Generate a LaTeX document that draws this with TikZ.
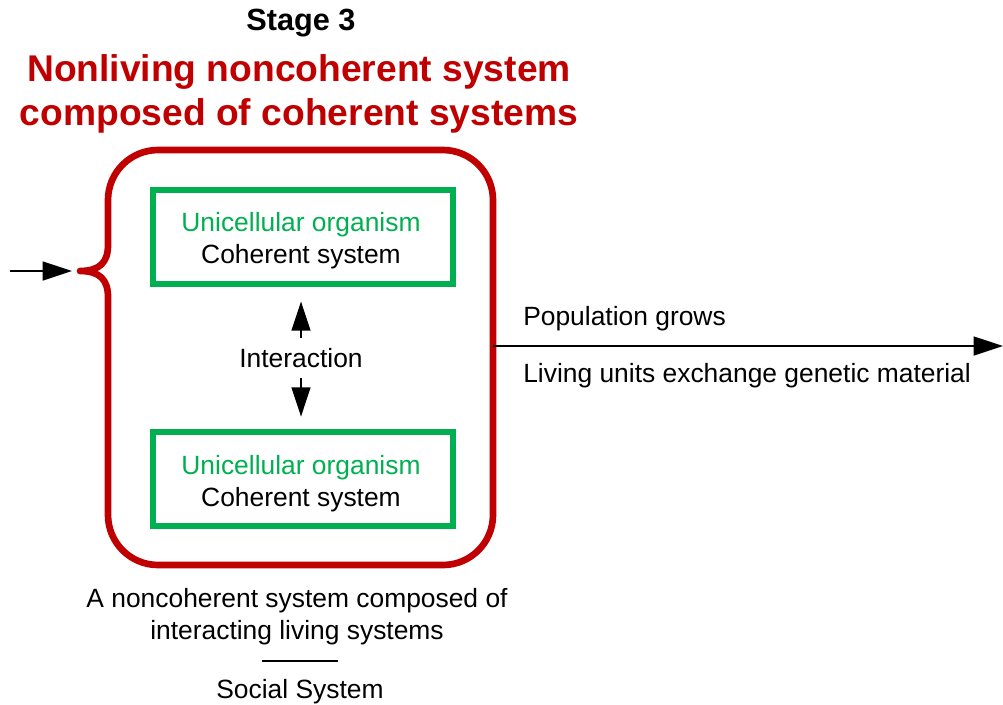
\documentclass[tikz,border=0pt]{standalone}
\usepackage{fontspec}
\setmainfont{Liberation Sans}
\usetikzlibrary{arrows.meta}
\definecolor{myred}{HTML}{C00000}
\definecolor{mygreen}{HTML}{00B050}
\begin{document}
\begin{tikzpicture}[x=0.75pt,y=-0.75pt,
  txt/.style={font=\fontsize{19.8}{24}\selectfont, inner sep=0pt, align=center},
  cbox/.style={draw=mygreen, line width=5pt, minimum width=225pt, minimum height=70.5pt, inner sep=0pt},
  arr/.style={line width=1.9pt, -{Triangle[length=22pt,width=14pt]}},
  redbox/.style={draw=myred, line width=5pt, line join=round},
]
\useasboundingbox (0,0) rectangle (1003,704);
\node[font=\bfseries\fontsize{23}{27}\selectfont, inner sep=0pt] (stage) at (301,23) {Stage 3};
\node[font=\bfseries\fontsize{27.9}{33}\selectfont, text=myred, align=center, inner sep=0pt] (title) at (299,94) {Nonliving noncoherent system\\composed of coherent systems};
\draw[redbox] (80,271) .. controls (100,271) and (108,262) .. (108,245) -- (108,200)
  .. controls (108,172.4) and (130.4,150) .. (158,150) -- (443,150)
  .. controls (470.6,150) and (493,172.4) .. (493,200) -- (493,515)
  .. controls (493,542.6) and (470.6,565) .. (443,565) -- (158,565)
  .. controls (130.4,565) and (108,542.6) .. (108,515) -- (108,297)
  .. controls (108,280) and (100,271) .. (80,271) -- cycle;
\coordinate (tip) at (80,271);
\coordinate (in) at (10,271);
\coordinate (redR) at (493,346);
\coordinate (out) at (1003,346);
\draw[arr, shorten >=6pt] (in) -- (tip);
\draw[arr] (redR) -- (out);
\node[cbox] (b1) at (303,237) {};
\node[txt] (t1) at (301,241) {\textcolor{mygreen}{Unicellular organism}\\Coherent system};
\node[cbox] (b2) at (303,479) {};
\node[txt] (t2) at (301,484) {\textcolor{mygreen}{Unicellular organism}\\Coherent system};
\node[txt, minimum height=30pt] (inter) at (301,358) {Interaction};
\draw[arr, shorten >=10.5pt] (inter.north) -- (inter.north |- b1.south);
\draw[arr, shorten >=9pt] (inter.south) -- (inter.south |- b2.north);
\node[txt, anchor=base west] (pop) at (523,325) {Population grows};
\node[txt, anchor=base west] (liv) at (523,382) {Living units exchange genetic material};
\node[txt] (desc) at (297,617) {A noncoherent system composed of\\interacting living systems};
\coordinate (ruleL) at (262,661);
\coordinate (ruleR) at (338,661);
\draw[line width=2.2pt] (ruleL) -- (ruleR);
\node[txt] (social) at (300,692) {Social System};
\end{tikzpicture}
\end{document}
